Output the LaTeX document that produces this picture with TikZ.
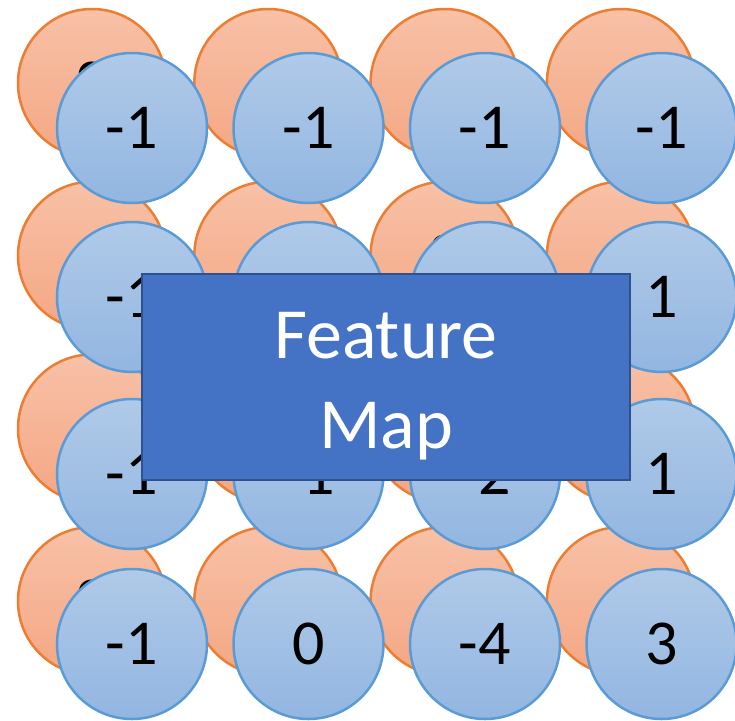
\documentclass[tikz,border=0pt]{standalone}
\usepackage{fontspec}
\setmainfont{Carlito}
\definecolor{oline}{HTML}{ED7D31}
\definecolor{otop}{HTML}{F8C1A7}
\definecolor{obot}{HTML}{F4A784}
\definecolor{bline}{HTML}{5B9BD5}
\definecolor{btop}{HTML}{B0CAE8}
\definecolor{bbot}{HTML}{92B6E1}
\definecolor{fmfill}{HTML}{4472C4}
\definecolor{fmline}{HTML}{2F528F}
\begin{document}
\begin{tikzpicture}[x=1pt,y=-1pt,
  ocirc/.style={circle, draw=oline, line width=2.5pt, top color=otop, bottom color=obot, minimum size=148pt, inner sep=0pt, font=\fontsize{64}{77}\selectfont},
  bcirc/.style={circle, draw=bline, line width=2.5pt, top color=btop, bottom color=bbot, minimum size=150pt, inner sep=0pt, font=\fontsize{64}{77}\selectfont},
  fmbox/.style={rectangle, draw=fmline, line width=2pt, fill=fmfill, minimum width=488pt, minimum height=206pt, inner sep=0pt},
  fmtext/.style={text=white, align=center, inner sep=0pt, font=\fontsize{72}{90}\selectfont}]
\useasboundingbox (0,0) rectangle (735,720);
% orange (back) circles
\node[ocirc] (o11) at (92,83) {2};
\node[ocirc] (o12) at (268.3,83) {};
\node[ocirc] (o13) at (444.6,83) {};
\node[ocirc] (o14) at (620.9,83) {};
\node[ocirc] (o21) at (92,255.7) {};
\node[ocirc] (o22) at (268.3,255.7) {};
\node[ocirc] (o23) at (444.6,255.7) {2};
\node[ocirc] (o24) at (620.9,255.7) {};
\node[ocirc] (o31) at (92,428.4) {};
\node[ocirc] (o32) at (268.3,428.4) {};
\node[ocirc] (o33) at (444.6,428.4) {};
\node[ocirc] (o34) at (620.9,428.4) {};
\node[ocirc] (o41) at (92,601.1) {2};
\node[ocirc] (o42) at (268.3,601.1) {};
\node[ocirc] (o43) at (444.6,601.1) {};
\node[ocirc] (o44) at (620.9,601.1) {};
% blue (front) circles
\node[bcirc] (b11) at (132,128) {-1};
\node[bcirc] (b12) at (308.5,128) {-1};
\node[bcirc] (b13) at (485,128) {-1};
\node[bcirc] (b14) at (661.5,128) {-1};
\node[bcirc] (b21) at (132,297) {-1};
\node[bcirc] (b22) at (308.5,297) {};
\node[bcirc] (b23) at (485,297) {};
\node[bcirc] (b24) at (661.5,297) {1};
\node[bcirc] (b31) at (132,474) {-1};
\node[bcirc] (b32) at (308.5,474) {-1};
\node[bcirc] (b33) at (485,474) {-2};
\node[bcirc] (b34) at (661.5,474) {1};
\node[bcirc] (b41) at (132,644) {-1};
\node[bcirc] (b42) at (308.5,644) {0};
\node[bcirc] (b43) at (485,644) {-4};
\node[bcirc] (b44) at (661.5,644) {3};
% feature map box
\node[fmbox] (fm) at (386,377) {};
\node[fmtext] (fmt) at ([yshift=-9pt]fm.center) {Feature\\Map};
\end{tikzpicture}
\end{document}
